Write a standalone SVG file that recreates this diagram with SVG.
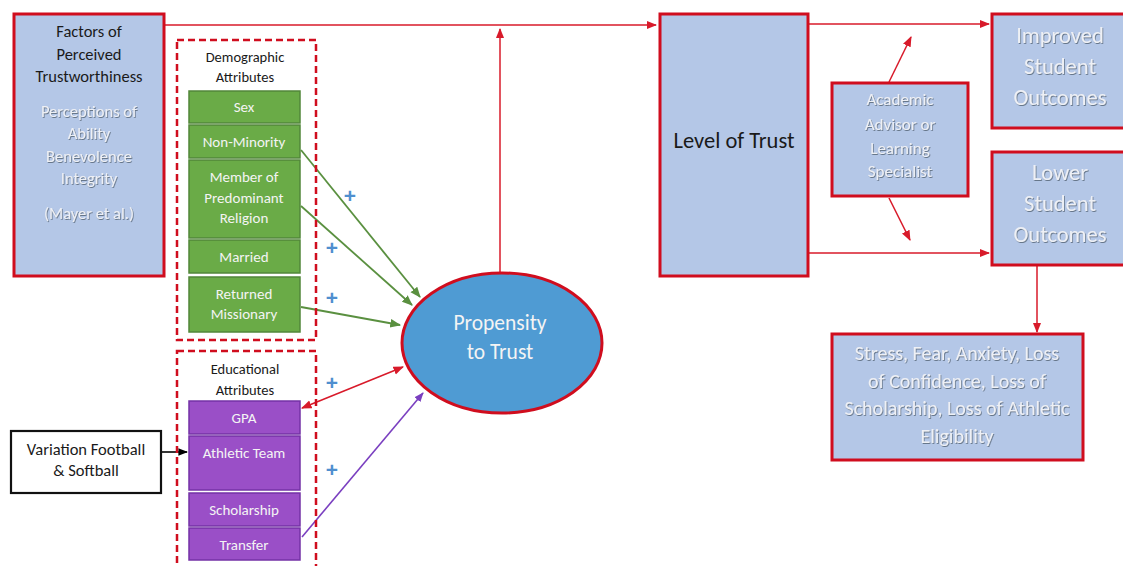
<svg xmlns="http://www.w3.org/2000/svg" width="1123" height="566" viewBox="0 0 1123 566">
<defs>
<style>
text{font-family:Carlito,Lato,"Liberation Sans",sans-serif;text-anchor:middle}
.bluebox{fill:#B4C7E7;stroke:#D00D1E;stroke-width:3}
.dash{fill:none;stroke:#D00D1E;stroke-width:2.5;stroke-dasharray:7,4}
.green{fill:#6AAB47;stroke:#52873A;stroke-width:1.5}
.purple{fill:#9A4FC7;stroke:#7432A6;stroke-width:1.5}
.dark{fill:#1A1A1A}
.lite{fill:#EEF0F5;filter:url(#sh)}
.wt{fill:#F4F4F4}
.rline{stroke:#D81A2A;stroke-width:1.5;fill:none}
.gline{stroke:#5A9040;stroke-width:1.8;fill:none}
.plus{fill:#4F8FCF;font-weight:900;font-size:21px;font-family:"Liberation Sans",sans-serif}
</style>
<filter id="sh" x="-10%" y="-20%" width="120%" height="150%"><feDropShadow dx="0.8" dy="1" stdDeviation="0.6" flood-color="#5F6E80" flood-opacity="0.9"/></filter>
<marker id="ar" viewBox="0 0 10 10" refX="9" refY="5" markerWidth="7" markerHeight="7" orient="auto-start-reverse"><path d="M0,1 L10,5 L0,9 z" fill="#D81A2A"/></marker>
<marker id="ag" viewBox="0 0 10 10" refX="9" refY="5" markerWidth="6" markerHeight="6" orient="auto"><path d="M0,1 L10,5 L0,9 z" fill="#5A9040"/></marker>
<marker id="ap" viewBox="0 0 10 10" refX="9" refY="5" markerWidth="6" markerHeight="6" orient="auto"><path d="M0,1 L10,5 L0,9 z" fill="#7A3FC0"/></marker>
<marker id="ab" viewBox="0 0 10 10" refX="9" refY="5" markerWidth="6" markerHeight="6" orient="auto"><path d="M0,1 L10,5 L0,9 z" fill="#000"/></marker>
</defs>
<rect width="1123" height="566" fill="#fff"/>

<g id="connectors">
<path class="rline" d="M165,25 H656" marker-end="url(#ar)"/>
<path class="rline" d="M500,273 V29" marker-end="url(#ar)"/>
<path class="rline" d="M808,24 H989" marker-end="url(#ar)"/>
<path class="rline" d="M808,253 H989" marker-end="url(#ar)"/>
<path class="rline" d="M889,82 L911,37" marker-end="url(#ar)"/>
<path class="rline" d="M889,198 L910,240" marker-end="url(#ar)"/>
<path class="rline" d="M1037,265 V332" marker-end="url(#ar)"/>
<path class="rline" d="M302,408 L403,367" marker-start="url(#ar)" marker-end="url(#ar)"/>
<path class="gline" d="M301,150 L420,297" marker-end="url(#ag)"/>
<path class="gline" d="M301,206 L412,305" marker-end="url(#ag)"/>
<path class="gline" d="M301,307 L400,325" marker-end="url(#ag)"/>
<path d="M302,537 L423,393" stroke="#7A3FC0" stroke-width="1.6" fill="none" marker-end="url(#ap)"/>
<path d="M161,452 H187" stroke="#000" stroke-width="1.6" fill="none" marker-end="url(#ab)"/>
</g>

<g id="plus-signs">
<text class="plus" x="350" y="203">+</text>
<text class="plus" x="332" y="255">+</text>
<text class="plus" x="332" y="305">+</text>
<text class="plus" x="332" y="390">+</text>
<text class="plus" x="332" y="477">+</text>
</g>

<g id="factors">
<rect class="bluebox" x="14" y="14" width="150" height="262"/>
<text class="dark" font-size="16.5" x="89" y="37">Factors of</text>
<text class="dark" font-size="16.5" x="89" y="60">Perceived</text>
<text class="dark" font-size="16.5" x="89" y="82">Trustworthiness</text>
<text class="lite" font-size="16.5" x="89" y="117">Perceptions of</text>
<text class="lite" font-size="16.5" x="89" y="139">Ability</text>
<text class="lite" font-size="16.5" x="89" y="162">Benevolence</text>
<text class="lite" font-size="16.5" x="89" y="184">Integrity</text>
<text class="lite" font-size="16.5" x="89" y="219">(Mayer et al.)</text>
</g>

<g id="demographic">
<rect class="dash" x="177" y="40" width="139" height="300"/>
<text class="dark" font-size="14.5" x="245" y="62">Demographic</text>
<text class="dark" font-size="14.5" x="245" y="82">Attributes</text>
</g>
<g id="sex"><rect class="green" x="189" y="91" width="111" height="32"/><text class="wt" font-size="15" x="244" y="112">Sex</text></g>
<g id="non-minority"><rect class="green" x="189" y="125" width="111" height="33"/><text class="wt" font-size="15" x="244" y="147">Non-Minority</text></g>
<g id="religion"><rect class="green" x="189" y="160" width="111" height="78"/><text class="wt" font-size="15" x="244" y="182">Member of</text><text class="wt" font-size="15" x="244" y="203">Predominant</text><text class="wt" font-size="15" x="244" y="223">Religion</text></g>
<g id="married"><rect class="green" x="189" y="240" width="111" height="33"/><text class="wt" font-size="15" x="244" y="262">Married</text></g>
<g id="missionary"><rect class="green" x="189" y="277" width="111" height="55"/><text class="wt" font-size="15" x="244" y="299">Returned</text><text class="wt" font-size="15" x="244" y="319">Missionary</text></g>

<g id="educational">
<rect class="dash" x="177" y="351" width="139" height="220"/>
<text class="dark" font-size="14.5" x="245" y="374">Educational</text>
<text class="dark" font-size="14.5" x="245" y="395">Attributes</text>
</g>
<g id="gpa"><rect class="purple" x="189" y="401" width="111" height="33"/><text class="wt" font-size="15" x="244" y="423">GPA</text></g>
<g id="athletic"><rect class="purple" x="189" y="436" width="111" height="54"/><text class="wt" font-size="15" x="244" y="458">Athletic Team</text></g>
<g id="scholarship"><rect class="purple" x="189" y="493" width="111" height="33"/><text class="wt" font-size="15" x="244" y="515">Scholarship</text></g>
<g id="transfer"><rect class="purple" x="189" y="528" width="111" height="32"/><text class="wt" font-size="15" x="244" y="550">Transfer</text></g>

<g id="variation">
<rect x="11" y="431" width="150" height="62" fill="#fff" stroke="#111" stroke-width="2.2"/>
<text class="dark" font-size="16.5" x="86" y="455">Variation Football</text>
<text class="dark" font-size="16.5" x="86" y="476">&amp; Softball</text>
</g>

<g id="propensity">
<ellipse cx="502" cy="343" rx="100" ry="70" fill="#4F9BD3" stroke="#D00D1E" stroke-width="3"/>
<text class="wt" font-size="21.5" x="500" y="330">Propensity</text>
<text class="wt" font-size="21.5" x="500" y="359">to Trust</text>
</g>

<g id="level-of-trust">
<rect class="bluebox" x="660" y="14" width="148" height="262"/>
<text class="dark" font-size="22.5" x="734" y="148">Level of Trust</text>
</g>

<g id="advisor">
<rect class="bluebox" x="832" y="83" width="136" height="113"/>
<text class="lite" font-size="17" x="900" y="105">Academic</text>
<text class="lite" font-size="17" x="900" y="130">Advisor or</text>
<text class="lite" font-size="17" x="900" y="154">Learning</text>
<text class="lite" font-size="17" x="900" y="177">Specialist</text>
</g>

<g id="improved">
<rect class="bluebox" x="992" y="14" width="135" height="114"/>
<text class="lite" font-size="22.5" x="1060" y="43">Improved</text>
<text class="lite" font-size="22.5" x="1060" y="74">Student</text>
<text class="lite" font-size="22.5" x="1060" y="105">Outcomes</text>
</g>

<g id="lower">
<rect class="bluebox" x="992" y="152" width="135" height="113"/>
<text class="lite" font-size="22.5" x="1060" y="180">Lower</text>
<text class="lite" font-size="22.5" x="1060" y="211">Student</text>
<text class="lite" font-size="22.5" x="1060" y="242">Outcomes</text>
</g>

<g id="consequences">
<rect class="bluebox" x="832" y="334" width="251" height="126"/>
<text class="lite" font-size="20" x="957" y="360">Stress, Fear, Anxiety, Loss</text>
<text class="lite" font-size="20" x="957" y="388">of Confidence, Loss of</text>
<text class="lite" font-size="20" x="957" y="415">Scholarship, Loss of Athletic</text>
<text class="lite" font-size="20" x="957" y="443">Eligibility</text>
</g>
</svg>
